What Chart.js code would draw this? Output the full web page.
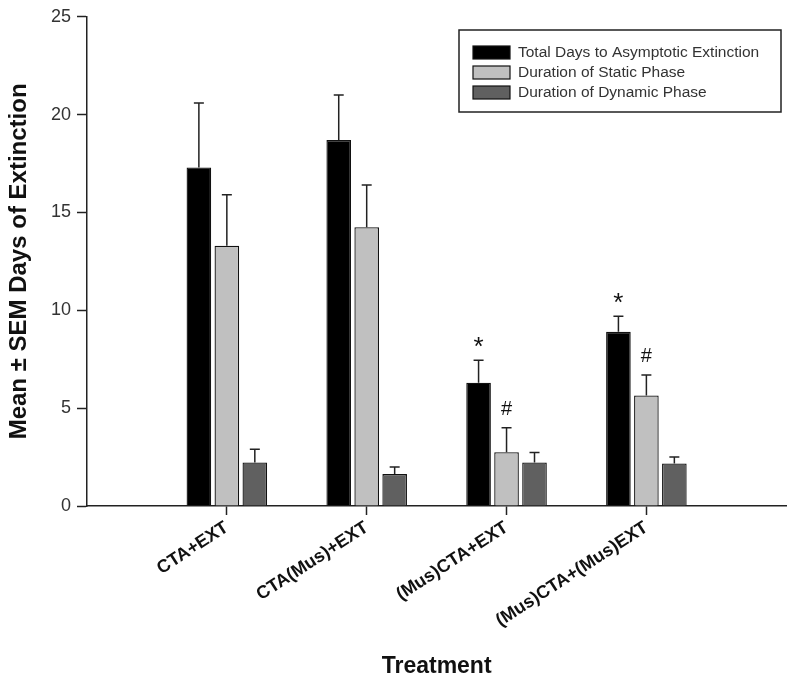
<!DOCTYPE html>
<html>
<head>
<meta charset="utf-8">
<script src="https://cdn.jsdelivr.net/npm/chart.js@4"></script>
<style>
  html, body { margin: 0; padding: 0; background: #fff; }
  #wrap { width: 800px; height: 680px; }
</style>
</head>
<body>
<div id="wrap"><canvas id="c" width="800" height="680"></canvas></div>
<script>
// Extinction data (mean and SEM in days)
const treatments = ["CTA+EXT", "CTA(Mus)+EXT", "(Mus)CTA+EXT", "(Mus)CTA+(Mus)EXT"];
const totalDays = [17.3, 18.7, 6.3, 8.9];
const totalSem = [3.3, 2.3, 1.15, 0.8];
const staticDays = [13.3, 14.25, 2.75, 5.65];
const staticSem = [2.6, 2.15, 1.25, 1.05];
const dynamicDays = [2.22, 1.63, 2.22, 2.17];
const dynamicSem = [0.68, 0.36, 0.52, 0.34];
const totalMarks = ["", "", "*", "*"];
const staticMarks = ["", "", "#", "#"];
const yTicks = [0, 5, 10, 15, 20, 25];

// one empty slot on each side so the groups sit at 1..4 of a 0..5 axis
const pad = (a) => [null, ...a, null];
const labels = pad(treatments).map((t) => t || "");

const FONT = "Arial, 'Liberation Sans', sans-serif";

const errorBars = {
  id: "errorBars",
  afterDatasetsDraw(chart) {
    const { ctx } = chart;
    const y = chart.scales.y;
    ctx.save();
    chart.data.datasets.forEach((ds, di) => {
      const meta = chart.getDatasetMeta(di);
      meta.data.forEach((bar, i) => {
        const v = ds.data[i];
        if (v == null) return;
        const top = y.getPixelForValue(v + ds.sem[i]);
        ctx.strokeStyle = "#222";
        ctx.lineWidth = 1.5;
        ctx.beginPath();
        ctx.moveTo(bar.x, bar.y);
        ctx.lineTo(bar.x, top);
        ctx.moveTo(bar.x - 5, top);
        ctx.lineTo(bar.x + 5, top);
        ctx.stroke();
        const m = ds.marks && ds.marks[i];
        if (m) {
          ctx.fillStyle = "#111";
          ctx.textAlign = "center";
          ctx.textBaseline = "middle";
          if (m === "*") {
            ctx.font = `26px ${FONT}`;
            ctx.fillText(m, bar.x, top - 12);
          } else {
            ctx.font = `20px ${FONT}`;
            ctx.fillText(m, bar.x, top - 18);
          }
        }
      });
    });
    ctx.restore();
  },
};

const boxLegend = {
  id: "boxLegend",
  afterDraw(chart) {
    const { ctx } = chart;
    const x0 = 459, y0 = 30, w = 322, h = 82;
    ctx.save();
    ctx.fillStyle = "#fff";
    ctx.fillRect(x0, y0, w, h);
    ctx.strokeStyle = "#222";
    ctx.lineWidth = 1.5;
    ctx.strokeRect(x0, y0, w, h);
    ctx.font = `15.5px ${FONT}`;
    ctx.textBaseline = "middle";
    ctx.textAlign = "left";
    chart.data.datasets.forEach((ds, i) => {
      const cy = y0 + 22 + i * 20;
      ctx.fillStyle = ds.backgroundColor;
      ctx.fillRect(x0 + 14, cy - 6, 37, 13);
      ctx.strokeStyle = "#111";
      ctx.lineWidth = 1.2;
      ctx.strokeRect(x0 + 14, cy - 6, 37, 13);
      ctx.fillStyle = "#333";
      ctx.fillText(ds.label, x0 + 59, cy + 1);
    });
    ctx.restore();
  },
};

const ds = (label, data, sem, color, marks) => ({
  label, data: pad(data), sem: pad(sem), marks: marks ? pad(marks) : null,
  backgroundColor: color, borderColor: "#111", borderWidth: 1.3,
  categoryPercentage: 0.6, barPercentage: 0.88,
});

new Chart(document.getElementById("c"), {
  type: "bar",
  data: {
    labels,
    datasets: [
      ds("Total Days to Asymptotic Extinction", totalDays, totalSem, "#000000", totalMarks),
      ds("Duration of Static Phase", staticDays, staticSem, "#c0c0c0", staticMarks),
      ds("Duration of Dynamic Phase", dynamicDays, dynamicSem, "#606060", null),
    ],
  },
  options: {
    responsive: false, animation: false,
    layout: { padding: { top: 14, right: 9, left: 0, bottom: 0 } },
    plugins: { legend: { display: false }, tooltip: { enabled: false } },
    scales: {
      x: {
        offset: false,
        afterFit(s) { s.height = 174; },
        grid: {
          offset: false, drawOnChartArea: false, tickLength: 9, tickWidth: 1.5,
          tickColor: (c) => (c.index === 0 || c.index === labels.length - 1 ? "rgba(0,0,0,0)" : "#222"),
        },
        border: { color: "#222", width: 1.5 },
        ticks: {
          autoSkip: false, minRotation: 33, maxRotation: 33, padding: 2,
          color: "#111", font: { family: FONT, size: 18, weight: "bold" },
        },
        title: {
          display: true, text: "Treatment", color: "#111",
          font: { family: FONT, size: 23, weight: "bold" }, padding: { top: 6, bottom: 0 },
        },
      },
      y: {
        min: 0, max: 25,
        afterFit(s) { s.width = 87; },
        afterBuildTicks(s) { s.ticks = yTicks.map((v) => ({ value: v })); },
        grid: { drawOnChartArea: false, tickLength: 10, tickWidth: 1.5, tickColor: "#222" },
        border: { color: "#222", width: 1.5 },
        ticks: { color: "#333", padding: 6, font: { family: FONT, size: 18 } },
        title: {
          display: true, text: "Mean \u00b1 SEM Days of Extinction", color: "#111",
          font: { family: FONT, size: 24, weight: "bold" }, padding: { top: 5, bottom: 0 },
        },
      },
    },
  },
  plugins: [errorBars, boxLegend],
});
</script>
</body>
</html>
